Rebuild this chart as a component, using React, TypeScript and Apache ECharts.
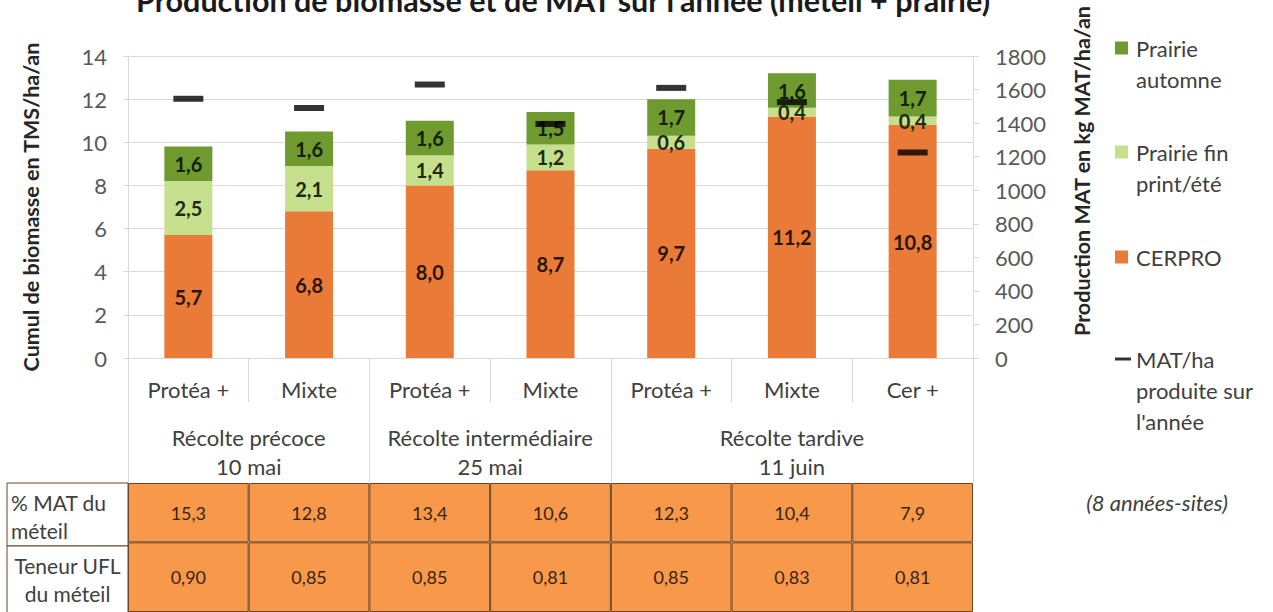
import React, { useEffect, useRef } from "react";
import * as echarts from "echarts";

// ---------- data ----------
const categories = ["Protéa +", "Mixte", "Protéa +", "Mixte", "Protéa +", "Mixte", "Cer +"];
const groupLabels = ["Récolte précoce\n10 mai", "Récolte intermédiaire\n25 mai", "Récolte tardive\n11 juin"];
const groupSizes = [2, 2, 3];
const cerpro = [5.7, 6.8, 8.0, 8.7, 9.7, 11.2, 10.8];
const prairieFin = [2.5, 2.1, 1.4, 1.2, 0.6, 0.4, 0.4];
const prairieAutomne = [1.6, 1.6, 1.6, 1.5, 1.7, 1.6, 1.7];
const matHa = [1545, 1490, 1630, 1395, 1610, 1525, 1225];
const matPct = [15.3, 12.8, 13.4, 10.6, 12.3, 10.4, 7.9];
const uflTeneur = [0.9, 0.85, 0.85, 0.81, 0.85, 0.83, 0.81];
const tableRowLabels = ["% MAT du\nméteil", "Teneur UFL\ndu méteil"];
const seriesNames = ["Prairie automne", "Prairie fin print/été", "CERPRO", "MAT/ha produite sur l'année"];
const legendTexts = ["Prairie\nautomne", "Prairie fin\nprint/été", "CERPRO", "MAT/ha\nproduite sur\nl'année"];
const title = "Production de biomasse et de MAT sur l'année (méteil + prairie)";
const leftAxisName = "Cumul de biomasse en TMS/ha/an";
const rightAxisName = "Production MAT en kg MAT/ha/an";
const footNote = "(8 années-sites)";

// ---------- layout / style ----------
const W = 1273;
const H = 612;
const GRID_L = 128;
const GRID_RX = 973;
const GRID_TOP = 56;
const GRID_BY = 358;
const TABLE_TOP = 483;
const ROW1_H = 63;
const ROW2_H = 74;
const FONT = "Lato";
const C_ORANGE = "#EA7A37";
const C_LIGHT = "#C5DF8D";
const C_DARK = "#6E9A30";
const C_TABLE = "#F7984A";
const C_BORDER = "#6b4424";
const C_GRID = "#D9D9D9";
const LEG_LH = 31;

const fmt1 = (v: number) => v.toFixed(1).replace(".", ",");
const fmt2 = (v: number) => v.toFixed(2).replace(".", ",");

const groupBounds: number[] = [0];
groupSizes.forEach((s) => groupBounds.push(groupBounds[groupBounds.length - 1] + s));
const groupCenters = groupSizes.map((s, i) => groupBounds[i] + s / 2);

// legend marker drawn at the first text line of a multi-line legend entry
const markerIcon = (w: number, h: number, lines: number) => {
  const total = lines * LEG_LH;
  const y0 = LEG_LH / 2 - h / 2;
  const y1 = y0 + h;
  return `path://M0,0L0,0M0,${y0}L${w},${y0}L${w},${y1}L0,${y1}ZM0,${total}L0,${total}`;
};

export default function App() {
  const ref = useRef<HTMLDivElement>(null);
  useEffect(() => {
    document.body.style.margin = "0";
    if (!ref.current) return;
    const chart = echarts.init(ref.current, null, { renderer: "svg" });

    const barLabel = (color: string) => ({
      show: true,
      position: "inside",
      formatter: (p: any) => fmt1(p.value as number),
      fontSize: 20,
      fontWeight: "bold",
      color,
      fontFamily: FONT,
    });

    // firstLineY: y of the first text line (and of the marker)
    const mkLegend = (i: number, firstLineY: number, lines: number, square: boolean) => {
      const w = square ? 13 : 16;
      const h = square ? 13 : 3;
      return {
        data: [seriesNames[i]],
        left: 1115,
        top: firstLineY - LEG_LH / 2,
        orient: "vertical",
        padding: 0,
        icon: markerIcon(w, h, lines),
        itemWidth: w,
        itemHeight: lines * LEG_LH,
        formatter: () => legendTexts[i],
        selectedMode: false,
        textStyle: {
          fontFamily: FONT,
          fontSize: 22,
          lineHeight: LEG_LH,
          color: "#404040",
          padding: [0, 0, 0, square ? 3 : 0],
        },
      };
    };

    const option: any = {
      animation: false,
      textStyle: { fontFamily: FONT },
      title: {
        text: title,
        left: 136,
        top: -16,
        padding: 0,
        textStyle: { fontFamily: FONT, fontSize: 30.5, fontWeight: "bold", color: "#1a1a1a" },
      },
      legend: [
        mkLegend(0, 48, 2, true),
        mkLegend(1, 152, 2, true),
        mkLegend(2, 257, 1, true),
        mkLegend(3, 359, 3, false),
      ],
      grid: [
        { left: GRID_L, right: W - GRID_RX, top: GRID_TOP, bottom: H - GRID_BY, containLabel: false },
        { left: GRID_L, right: W - GRID_RX, top: TABLE_TOP, height: ROW1_H + ROW2_H, containLabel: false },
      ],
      xAxis: [
        {
          type: "category",
          gridIndex: 0,
          data: categories,
          axisLine: { show: true, lineStyle: { color: C_GRID } },
          axisTick: { show: true, interval: 0, length: 44, lineStyle: { color: C_GRID } },
          axisLabel: { interval: 0, margin: 20, fontSize: 22, color: "#404040", fontFamily: FONT },
        },
        {
          type: "value",
          gridIndex: 0,
          min: 0,
          max: categories.length,
          position: "bottom",
          axisLine: { show: false },
          splitLine: { show: false },
          axisTick: { show: true, customValues: groupBounds, length: TABLE_TOP - GRID_BY, lineStyle: { color: C_GRID } },
          axisLabel: {
            customValues: groupCenters,
            formatter: (v: number) => {
              const i = groupCenters.findIndex((c) => Math.abs(c - v) < 1e-6);
              return i >= 0 ? groupLabels[i] : "";
            },
            margin: 65,
            fontSize: 22,
            lineHeight: 29,
            color: "#404040",
            fontFamily: FONT,
          },
        },
        { type: "category", gridIndex: 1, data: categories, show: false },
      ],
      yAxis: [
        {
          type: "value",
          gridIndex: 0,
          min: 0,
          max: 14,
          interval: 2,
          position: "left",
          axisLine: { show: true, lineStyle: { color: C_GRID } },
          axisTick: { show: true, length: 5, lineStyle: { color: C_GRID } },
          splitLine: { show: true, lineStyle: { color: C_GRID } },
          axisLabel: { margin: 21, fontSize: 22, color: "#595959", fontFamily: FONT },
          name: leftAxisName,
          nameLocation: "middle",
          nameGap: 86,
          nameTextStyle: { fontFamily: FONT, fontSize: 21.5, fontWeight: "bold", color: "#262626" },
        },
        {
          type: "value",
          gridIndex: 0,
          min: 0,
          max: 1800,
          interval: 200,
          position: "right",
          axisLine: { show: true, lineStyle: { color: C_GRID } },
          axisTick: { show: true, length: 6, lineStyle: { color: C_GRID } },
          splitLine: { show: false },
          axisLabel: {
            margin: 22,
            fontSize: 22,
            color: "#595959",
            fontFamily: FONT,
            formatter: (v: number) => String(v),
          },
          name: rightAxisName,
          nameLocation: "middle",
          nameGap: 98,
          nameTextStyle: {
            fontFamily: FONT,
            fontSize: 21.5,
            fontWeight: "bold",
            color: "#262626",
            padding: [0, 0, 0, 72],
          },
        },
        { type: "value", gridIndex: 1, min: 0, max: ROW1_H + ROW2_H, show: false },
      ],
      series: [
        {
          name: seriesNames[2],
          type: "bar",
          stack: "bio",
          barWidth: 48,
          data: cerpro,
          itemStyle: { color: C_ORANGE },
          label: barLabel("#2a1608"),
        },
        {
          name: seriesNames[1],
          type: "bar",
          stack: "bio",
          barWidth: 48,
          data: prairieFin,
          itemStyle: { color: C_LIGHT },
          label: barLabel("#1f2a10"),
        },
        {
          name: seriesNames[0],
          type: "bar",
          stack: "bio",
          barWidth: 48,
          data: prairieAutomne,
          itemStyle: { color: C_DARK },
          label: barLabel("#142008"),
        },
        {
          name: seriesNames[3],
          type: "scatter",
          yAxisIndex: 1,
          symbol: "rect",
          symbolSize: [30, 6],
          data: matHa,
          itemStyle: { color: "#000000" },
          z: 10,
        },
        {
          name: "table-ufl",
          type: "bar",
          xAxisIndex: 2,
          yAxisIndex: 2,
          stack: "table",
          barWidth: "100%",
          data: uflTeneur.map(() => ROW2_H),
          itemStyle: { color: C_TABLE, borderColor: C_BORDER, borderWidth: 1 },
          label: {
            show: true,
            position: "inside",
            formatter: (p: any) => fmt2(uflTeneur[p.dataIndex]),
            fontSize: 18,
            color: "#3a2410",
            fontFamily: FONT,
          },
          emphasis: { disabled: true },
        },
        {
          name: "table-mat",
          type: "bar",
          xAxisIndex: 2,
          yAxisIndex: 2,
          stack: "table",
          barWidth: "100%",
          data: matPct.map(() => ROW1_H),
          itemStyle: { color: C_TABLE, borderColor: C_BORDER, borderWidth: 1 },
          label: {
            show: true,
            position: "inside",
            formatter: (p: any) => fmt1(matPct[p.dataIndex]),
            fontSize: 18,
            color: "#3a2410",
            fontFamily: FONT,
          },
          emphasis: { disabled: true },
        },
      ],
      graphic: [
        {
          type: "rect",
          shape: { x: 7, y: TABLE_TOP, width: GRID_L - 7, height: ROW1_H },
          style: { fill: "#ffffff", stroke: C_BORDER, lineWidth: 1 },
        },
        {
          type: "rect",
          shape: { x: 7, y: TABLE_TOP + ROW1_H, width: GRID_L - 7, height: ROW2_H },
          style: { fill: "#ffffff", stroke: C_BORDER, lineWidth: 1 },
        },
        {
          type: "text",
          x: 11,
          y: TABLE_TOP + ROW1_H / 2 + 2,
          style: {
            text: tableRowLabels[0],
            fontFamily: FONT,
            fontSize: 21,
            lineHeight: 28,
            fill: "#404040",
            align: "left",
            verticalAlign: "middle",
          },
        },
        {
          type: "text",
          x: (7 + GRID_L) / 2,
          y: TABLE_TOP + ROW1_H + 33,
          style: {
            text: tableRowLabels[1],
            fontFamily: FONT,
            fontSize: 21,
            lineHeight: 28,
            fill: "#404040",
            align: "center",
            verticalAlign: "middle",
          },
        },
        {
          type: "text",
          x: 1157,
          y: 502,
          style: {
            text: footNote,
            fontFamily: FONT,
            fontSize: 22,
            fontStyle: "italic",
            fill: "#404040",
            align: "center",
            verticalAlign: "middle",
          },
        },
      ],
    };

    chart.setOption(option);
    return () => chart.dispose();
  }, []);

  return <div ref={ref} style={{ width: W, height: H }} />;
}
